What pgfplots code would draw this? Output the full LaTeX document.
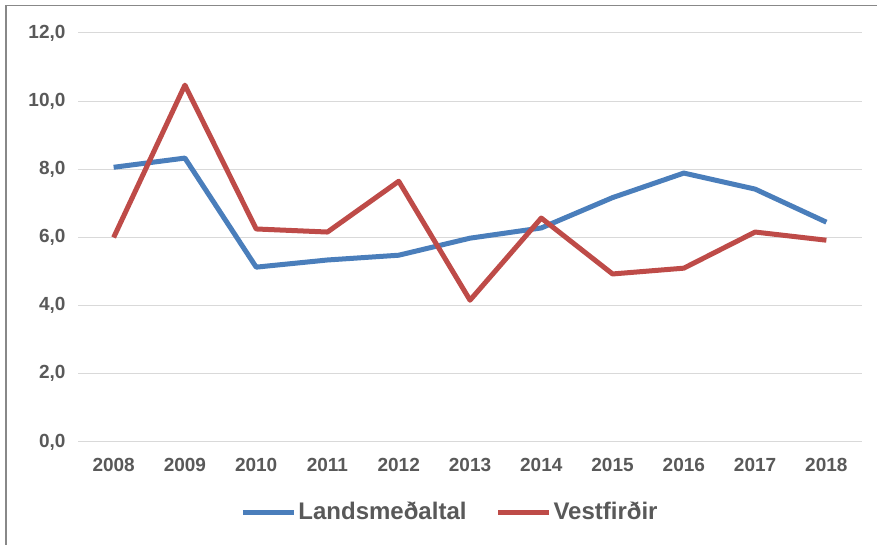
\documentclass[border=0pt]{standalone}
\usepackage{fontspec}
\setmainfont{Liberation Sans}
\usepackage{pgfplots}
\pgfplotsset{compat=1.18}
\definecolor{lblue}{HTML}{4A7EBB}
\definecolor{lred}{HTML}{BE4B48}
\definecolor{txtgray}{HTML}{595959}
\definecolor{gridgray}{HTML}{D9D9D9}
\definecolor{framegray}{HTML}{888888}
\begin{document}
\begin{tikzpicture}[x=1pt,y=1pt]
\useasboundingbox (0,0) rectangle (877,545);
\draw[framegray, line width=1.5pt] (6,0) -- (6,539.5) -- (877,539.5);
\begin{axis}[
  at={(78pt,103pt)}, anchor=south west,
  scale only axis, width=784pt, height=409pt,
  xmin=-0.5, xmax=10.5, ymin=0, ymax=12,
  xtick={0,1,2,3,4,5,6,7,8,9,10},
  xticklabels={2008,2009,2010,2011,2012,2013,2014,2015,2016,2017,2018},
  ytick={0,2,4,6,8,10,12},
  ymajorgrids, grid style={draw=gridgray, line width=1pt},
  axis line style={draw=none},
  major tick length=0pt,
  tick label style={font=\fontsize{19}{22}\selectfont\bfseries, text=txtgray},
  xticklabel style={yshift=-12.5pt},
  yticklabel style={xshift=-9pt, /pgf/number format/.cd, fixed, fixed zerofill, precision=1, use comma, assume math mode=true},
  clip=false,
  legend style={at={(0.4745,-0.171)}, anchor=center, draw=none, fill=none,
    legend columns=2, font=\fontsize{24}{28}\selectfont\bfseries, text=txtgray,
    /tikz/every even column/.append style={column sep=27pt}},
  legend image code/.code={\draw[#1] (0pt,-0.5pt) -- (51pt,-0.5pt);},
]
\addplot[lblue, line width=5pt, line join=round] coordinates {
(0,8.06) (1,8.33) (2,5.13) (3,5.34) (4,5.48) (5,5.98) (6,6.28) (7,7.17) (8,7.89) (9,7.42) (10,6.45)};
\addlegendentry{Landsmeðaltal}
\addplot[lred, line width=5pt, line join=round] coordinates {
(0,6.00) (1,10.47) (2,6.25) (3,6.16) (4,7.65) (5,4.16) (6,6.57) (7,4.93) (8,5.10) (9,6.16) (10,5.92)};
\addlegendentry{Vestfirðir}
\end{axis}
\end{tikzpicture}
\end{document}
